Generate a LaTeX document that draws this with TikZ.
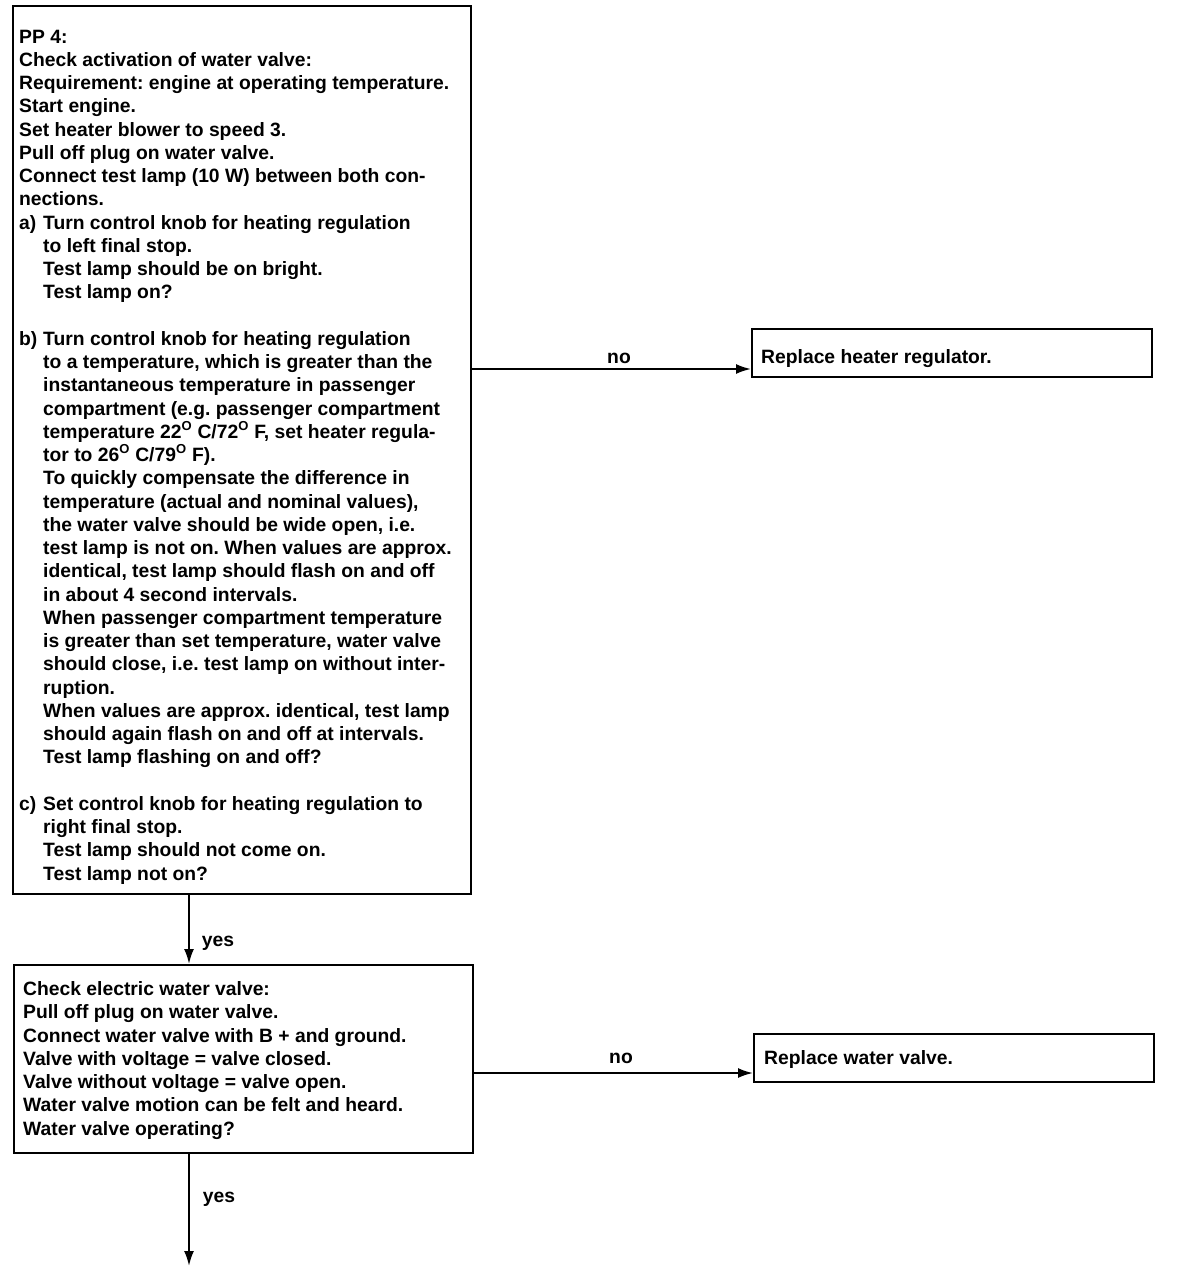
\documentclass[tikz,border=0pt]{standalone}
\usepackage{fontspec}
\setmainfont{Liberation Sans}
\usetikzlibrary{arrows.meta}
\frenchspacing
\begin{document}
\begin{tikzpicture}[x=1pt,y=-1pt,
  box/.style={draw,line width=2pt,inner sep=0,anchor=north west},
  txt/.style={font=\fontsize{19.3}{23.25}\selectfont\bfseries\frenchspacing,align=left,inner sep=0,anchor=base west},
  lbl/.style={font=\fontsize{19.3}{23.25}\selectfont\bfseries,inner sep=0},
  conn/.style={line width=2pt,-{Latex[length=15pt,width=10pt]}}]
\useasboundingbox (0,0) rectangle (1200,1286);
\newcommand{\ind}{\hspace*{24pt}}
\newcommand{\itm}[1]{\makebox[24pt][l]{#1}}
\newcommand{\dg}{\textsuperscript{\fontsize{13}{13}\selectfont O}}
% boxes
\node[box,minimum width=458pt,minimum height=888pt] (b1) at (12,5) {};
\node[box,minimum width=400pt,minimum height=48pt] (b2) at (751,328) {};
\node[box,minimum width=459pt,minimum height=188pt] (b3) at (13,964) {};
\node[box,minimum width=400pt,minimum height=48pt] (b4) at (753,1033) {};
% texts (anchored at the baseline of their last line)
\node[txt] (t1) at (19,880) {PP 4:\\
Check activation of water valve:\\
Requirement: engine at operating temperature.\\
Start engine.\\
Set heater blower to speed 3.\\
Pull off plug on water valve.\\
Connect test lamp (10 W) between both con-\\
nections.\\
\itm{a)}Turn control knob for heating regulation\\
\ind to left final stop.\\
\ind Test lamp should be on bright.\\
\ind Test lamp on?\\
\mbox{}\\
\itm{b)}Turn control knob for heating regulation\\
\ind to a temperature, which is greater than the\\
\ind instantaneous temperature in passenger\\
\ind compartment (e.g. passenger compartment\\
\ind temperature 22\dg{} C/72\dg{} F, set heater regula-\\
\ind tor to 26\dg{} C/79\dg{} F).\\
\ind To quickly compensate the difference in\\
\ind temperature (actual and nominal values),\\
\ind the water valve should be wide open, i.e.\\
\ind test lamp is not on. When values are approx.\\
\ind identical, test lamp should flash on and off\\
\ind in about 4 second intervals.\\
\ind When passenger compartment temperature\\
\ind is greater than set temperature, water valve\\
\ind should close, i.e. test lamp on without inter-\\
\ind ruption.\\
\ind When values are approx. identical, test lamp\\
\ind should again flash on and off at intervals.\\
\ind Test lamp flashing on and off?\\
\mbox{}\\
\itm{c)}Set control knob for heating regulation to\\
\ind right final stop.\\
\ind Test lamp should not come on.\\
\ind Test lamp not on?};
\node[txt] (t2) at (761,363) {Replace heater regulator.};
\node[txt] (t3) at (23,1135) {Check electric water valve:\\
Pull off plug on water valve.\\
Connect water valve with B + and ground.\\
Valve with voltage = valve closed.\\
Valve without voltage = valve open.\\
Water valve motion can be felt and heard.\\
Water valve operating?};
\node[txt] (t4) at (764,1064) {Replace water valve.};
% connector helpers
\coordinate (ax) at (189,0);
\coordinate (ay1) at (0,369);
\coordinate (ay2) at (0,1073);
\coordinate (end) at (189,1266);
% connectors
\draw[conn] (b1.east |- ay1) -- (b2.west |- ay1);
\draw[conn] (b3.east |- ay2) -- (b4.west |- ay2);
\draw[conn] (ax |- b1.south) -- (ax |- b3.north);
\draw[conn] (ax |- b3.south) -- (end);
% labels
\node[lbl] (n1) at (619,358) {no};
\node[lbl] (n2) at (621,1058) {no};
\node[lbl] (y1) at (218,943) {yes};
\node[lbl] (y2) at (219,1199) {yes};
\end{tikzpicture}
\end{document}
